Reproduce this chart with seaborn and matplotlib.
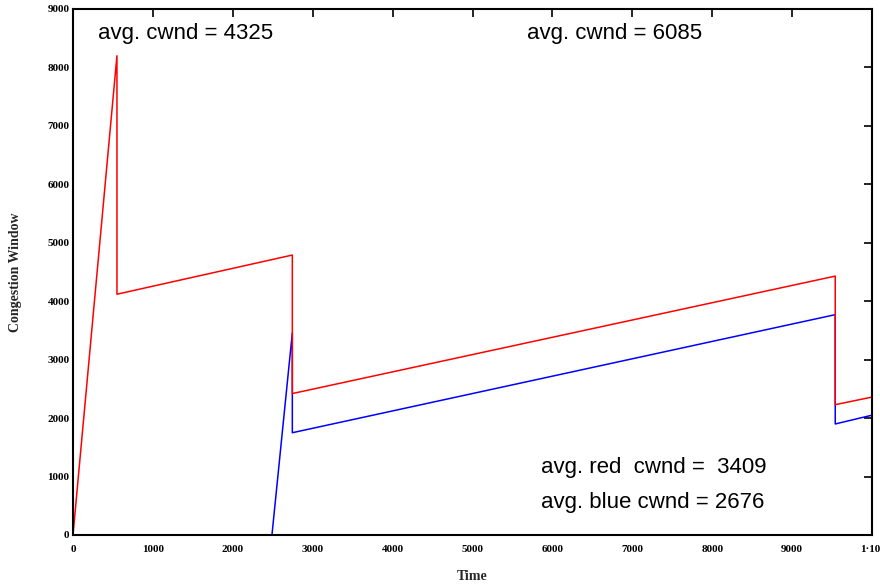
import matplotlib
matplotlib.use("Agg")
import matplotlib.pyplot as plt
import seaborn as sns
import pandas as pd

# Congestion window traces (time, cwnd) for the two flows
red_time = [0, 550, 550, 2745, 2745, 9540, 9540, 10000]
red_cwnd = [0, 8200, 4120, 4790, 2420, 4430, 2230, 2360]

blue_time = [0, 2490, 2745, 2745, 9540, 9540, 10000]
blue_cwnd = [0, 0, 3460, 1750, 3770, 1900, 2050]

x_ticks = [0, 1000, 2000, 3000, 4000, 5000, 6000, 7000, 8000, 9000, 10000]
x_tick_labels = ["0", "1000", "2000", "3000", "4000", "5000", "6000",
                 "7000", "8000", "9000", "1·10⁴"]
y_ticks = [0, 1000, 2000, 3000, 4000, 5000, 6000, 7000, 8000, 9000]

annotations = [
    (0.031, 0.954, "avg. cwnd = 4325"),
    (0.568, 0.954, "avg. cwnd = 6085"),
    (0.586, 0.129, "avg. red  cwnd =  3409"),
    (0.586, 0.061, "avg. blue cwnd = 2676"),
]

red = pd.DataFrame({"time": red_time, "cwnd": red_cwnd})
blue = pd.DataFrame({"time": blue_time, "cwnd": blue_cwnd})

sns.set_style("white")
fig = plt.figure(figsize=(8.8, 5.86), dpi=100)
ax = fig.add_axes([73 / 880, 51 / 586, 799 / 880, 526 / 586])

sns.lineplot(data=blue, x="time", y="cwnd", ax=ax, color="#0000ff",
             sort=False, estimator=None, linewidth=1.1)
sns.lineplot(data=red, x="time", y="cwnd", ax=ax, color="#ff0000",
             sort=False, estimator=None, linewidth=1.1)

ax.set_xlim(0, 10000)
ax.set_ylim(0, 9000)

tick_font = {"family": ["Liberation Serif", "DejaVu Serif"],
             "weight": "bold", "size": 8}
ax.set_xticks(x_ticks)
ax.set_xticklabels(x_tick_labels, fontdict=tick_font)
ax.set_yticks(y_ticks)
ax.set_yticklabels([str(v) for v in y_ticks], fontdict=tick_font)
ax.tick_params(axis="both", direction="in", length=5.5, width=1.2,
               colors="black", top=True, right=True)
ax.tick_params(axis="x", pad=7)
ax.tick_params(axis="y", pad=2.5)

for side in ax.spines.values():
    side.set_visible(True)
    side.set_color("black")
    side.set_linewidth(1.5)

label_font = {"family": "Liberation Serif", "weight": "bold", "size": 10}
ax.set_xlabel("Time", fontdict=label_font, labelpad=12)
ax.set_ylabel("Congestion Window", fontdict=label_font, labelpad=18)
ax.grid(False)

for x, y, s in annotations:
    ax.text(x, y, s, transform=ax.transAxes, ha="left", va="center",
            family="Liberation Sans", fontsize=16, color="black")

fig.savefig("out.png", dpi=100)
